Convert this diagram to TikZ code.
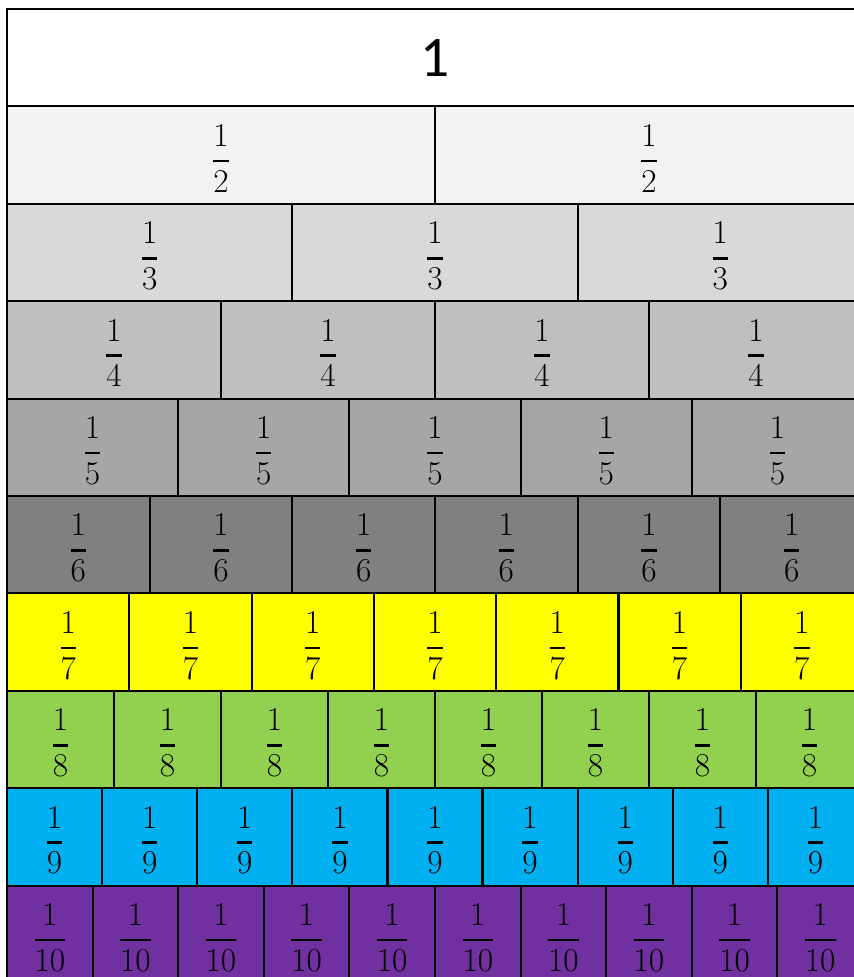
\documentclass[tikz,border=0pt]{standalone}
\usepackage{fix-cm}
\usepackage{amsmath}
\usepackage{fontspec}
\newfontfamily\calib{Carlito}
\definecolor{r2}{HTML}{F2F2F2}
\definecolor{r3}{HTML}{D9D9D9}
\definecolor{r4}{HTML}{BFBFBF}
\definecolor{r5}{HTML}{A6A6A6}
\definecolor{r6}{HTML}{808080}
\definecolor{r7}{HTML}{FFFF00}
\definecolor{r8}{HTML}{92D050}
\definecolor{r9}{HTML}{00B0F0}
\definecolor{r10}{HTML}{7030A0}
\newcommand\unitfrac[1]{$\genfrac{}{}{2pt}{0}{\rule[-4pt]{0pt}{4pt}1}{#1}$}
\begin{document}
\begin{tikzpicture}[x=0.75pt,y=-0.75pt,
  cell/.style={draw=black, line width=1.6pt, rectangle, inner sep=0pt,
    minimum height=73.05pt, font=\fontsize{25}{30}\selectfont}]
\useasboundingbox (0,0) rectangle (853,977);
\node[cell, fill=white, minimum width=642pt, font=\calib\fontsize{43}{50}\selectfont] (one) at (435,57.7) {1};
\foreach \n/\col in {2/r2,3/r3,4/r4,5/r5,6/r6,7/r7,8/r8,9/r9,10/r10} {
  \pgfmathsetmacro\w{856/\n}
  \pgfmathsetmacro\yc{9+97.4*(\n-1)+48.7}
  \foreach \k in {1,...,\n} {
    \node[cell, fill=\col, minimum width=\w*0.75pt] (c\n-\k) at ({7+\w*(\k-0.5)},\yc) {};
    \node[inner sep=0pt, font=\fontsize{25}{30}\selectfont] (f\n-\k) at ([yshift=-2.5pt]c\n-\k.center) {\unitfrac{\n}};
  }
}
\end{tikzpicture}
\end{document}
